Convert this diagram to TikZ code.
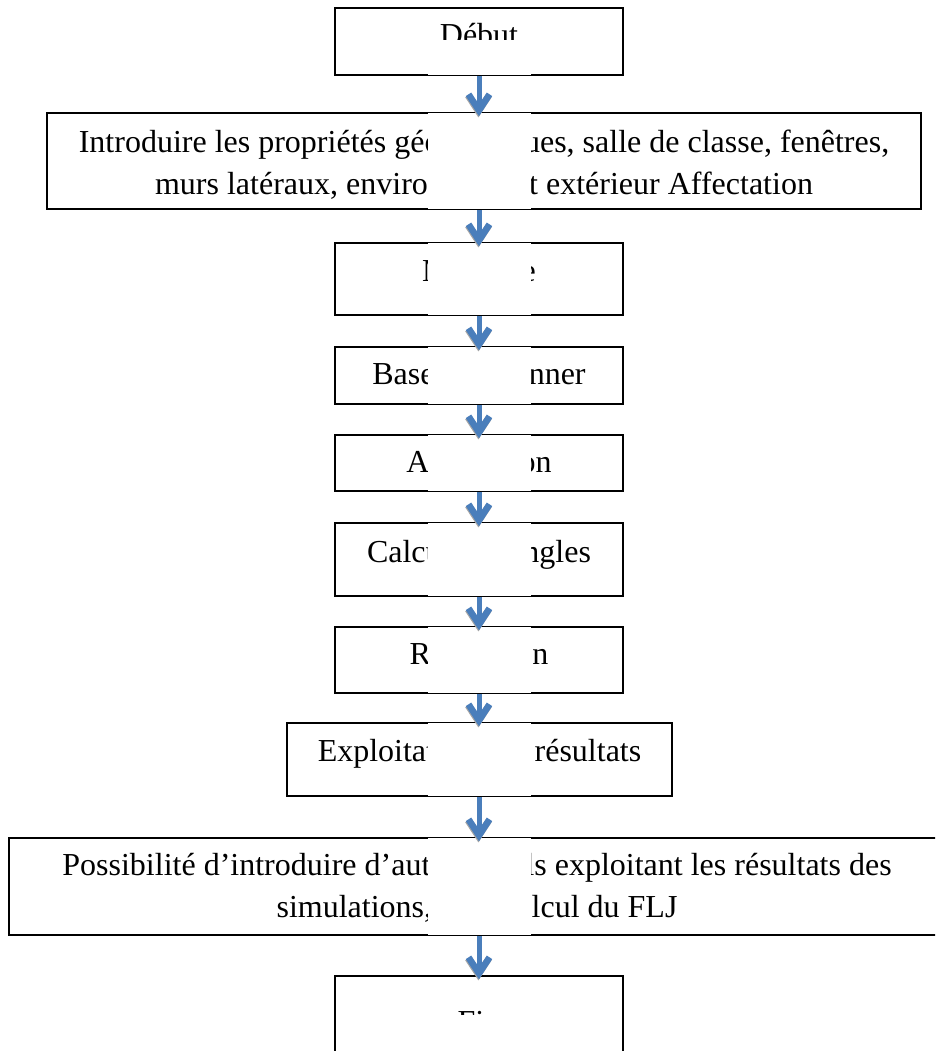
\documentclass[tikz,border=0pt]{standalone}
\usepackage{fontspec}
\setmainfont{Liberation Serif}
\usetikzlibrary{calc}
\usetikzlibrary{arrows.meta}
\definecolor{flowblue}{HTML}{4A7EBB}

\begin{document}
\begin{tikzpicture}[x=1pt, y=-1pt,
        box/.style={draw, line width=1.5pt, inner sep=0pt},
        txt/.style={anchor=base, align=center, inner sep=0pt,
            font=\fontsize{32}{42}\selectfont},
        flow/.style={draw=flowblue, line width=5pt, shorten >=-4pt,
            -{Straight Barb[length=16pt, width=21pt, line width=6.5pt]},
            preaction={draw=black!35, transform canvas={xshift=-0.6pt, yshift=-1.2pt}}}]
    \clip (0, 0) rectangle (935, 1051);
    % boxes
    \node[box, minimum width=288pt, minimum height=67pt] (DEBUT) at (479, 41.5) {};
    \node[box, minimum width=874pt, minimum height=96pt] (INTRO) at (484, 161) {};
    \node[box, minimum width=288pt, minimum height=72pt] (MAILLAGE) at (479, 279) {};
    \node[box, minimum width=288pt, minimum height=57pt] (BASE) at (479, 375.5) {};
    \node[box, minimum width=288pt, minimum height=56pt] (AFFECT) at (479, 463) {};
    \node[box, minimum width=288pt, minimum height=73pt] (CALCUL) at (479, 559.5) {};
    \node[box, minimum width=288pt, minimum height=66pt] (RESOL) at (479, 660) {};
    \node[box, minimum width=385pt, minimum height=73pt] (EXPLOIT) at (479.5, 759.5) {};
    \node[box, minimum width=936pt, minimum height=97pt] (POSSIB) at (477, 886.5) {};
    \node[box, minimum width=288pt, minimum height=120pt] (FIN) at (479, 1036) {};
    % texts (base = last line)
    \node[txt] (DEBUT-T) at ($(DEBUT.north) + (0, 38)$) {Début};
    \node[txt] (INTRO-T) at ($(INTRO.north) + (0, 82)$) {Introduire les propriétés géométriques, salle de classe, fenêtres,\\murs latéraux, environnement extérieur Affectation};
    \node[txt] (MAILLAGE-T) at ($(MAILLAGE.north) + (0, 39)$) {Maillage};
    \node[txt] (BASE-T) at ($(BASE.north) + (0, 38)$) {Base du Scanner};
    \node[txt] (AFFECT-T) at ($(AFFECT.north) + (0, 38)$) {Affectation};
    \node[txt] (CALCUL-T) at ($(CALCUL.north) + (0, 40)$) {Calcul des angles};
    \node[txt] (RESOL-T) at ($(RESOL.north) + (0, 38)$) {Résolution};
    \node[txt] (EXPLOIT-T) at ($(EXPLOIT.north) + (0, 39)$) {Exploitation des résultats};
    \node[txt] (POSSIB-T) at ($(POSSIB.north) + (0, 80)$) {Possibilité d’introduire d’autres outils exploitant les résultats des\\simulations, Ex : calcul du FLJ};
    \node[txt] (FIN-T) at ($(FIN.north) + (0, 57)$) {Fin};
    % white frames of the arrows
    \foreach \b in {INTRO, MAILLAGE, BASE, AFFECT, CALCUL, RESOL, EXPLOIT, POSSIB}
        \fill[white] ($(428, 0 |- \b.north) + (0, 1)$) rectangle ($(531, 0 |- \b.south) + (0, -1)$);
    \fill[white] (428, 40) rectangle ($(531, 0 |- DEBUT.south) + (0, -1)$);
    \fill[white] (428, 1015) rectangle (531, 1051);
    % arrows
    \foreach \a/\b in {DEBUT/INTRO, INTRO/MAILLAGE, MAILLAGE/BASE, BASE/AFFECT, AFFECT/CALCUL,
            CALCUL/RESOL, RESOL/EXPLOIT, EXPLOIT/POSSIB, POSSIB/FIN}
        \draw[flow] (479, 0 |- \a.south) -- (479, 0 |- \b.north);
\end{tikzpicture}
\end{document}
